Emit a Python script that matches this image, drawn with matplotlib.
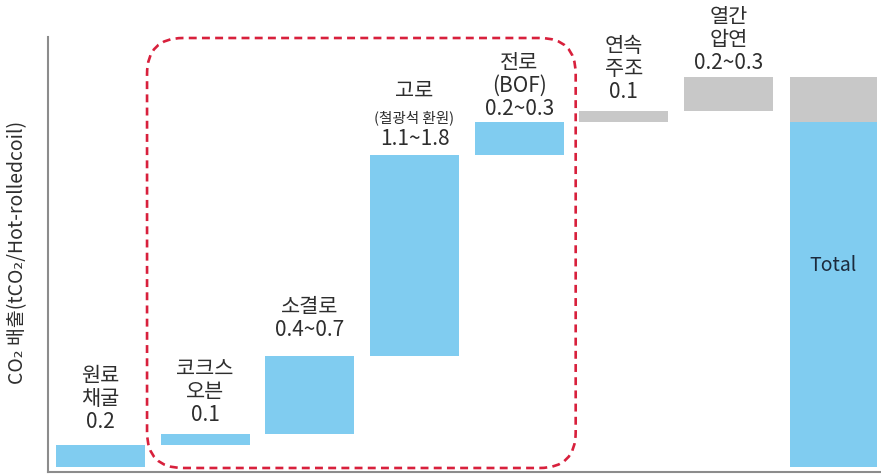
import matplotlib
matplotlib.use("Agg")
import matplotlib.pyplot as plt
from matplotlib.patches import FancyBboxPatch

plt.rcParams['font.family'] = ['Noto Sans CJK KR', 'DejaVu Sans']

# Process stages of a blast-furnace steel route and their CO2 intensity (tCO2 per t hot-rolled coil)
stages = ['원료\n채굴', '코크스\n오븐', '소결로', '고로', '전로', '연속\n주조', '열간\n압연']
notes = ['', '', '', '(철광석 환원)', '(BOF)', '', '']
low = [0.2, 0.1, 0.4, 1.1, 0.2, 0.1, 0.2]
high = [0.2, 0.1, 0.7, 1.8, 0.3, 0.1, 0.3]
upstream = [True, True, True, True, True, False, False]
total_label = 'Total'
ylabel = 'CO₂ 배출(tCO₂/Hot-rolledcoil)'

BLUE = '#80CCF0'
GRAY = '#C8C8C8'
TEXT = '#2E2E2E'

W, H = 881, 475
fig = plt.figure(figsize=(W / 100, H / 100), dpi=100)
ax = fig.add_axes([48 / W, 3 / H, (W - 48) / W, (472 - 37) / H])

# waterfall: each stage starts where the previous one ended
bottoms = []
acc = 0.0
for v in high:
    bottoms.append(acc)
    acc += v
total = acc
blue_total = sum(v for v, u in zip(high, upstream) if u)

xs = list(range(len(stages)))
colors = [BLUE if u else GRAY for u in upstream]
ax.bar(xs, high, bottom=bottoms, width=0.85, color=colors, edgecolor='none')

# total column: upstream part in blue, downstream part in gray
tx = len(stages)
ax.bar(tx, blue_total, bottom=0, width=0.83, color=BLUE, edgecolor='none')
ax.bar(tx, total - blue_total, bottom=blue_total, width=0.83, color=GRAY, edgecolor='none')
ax.text(tx, 1.81, total_label, ha='center', va='center', fontsize=14, color='#1C2A3C')

# stage labels stacked above each bar (pixel offsets)
gaps = [23, 19, 26, 16, 13, 19, 14]
for i, (name, note, lo, hi) in enumerate(zip(stages, notes, low, high)):
    val = f'{lo:g}' if lo == hi else f'{lo:g}~{hi:g}'
    lines = [(val, 15)]
    if note:
        lines.append((note, 10.5 if i == 3 else 15))
    for part in reversed(name.split('\n')):
        lines.append((part, 15))
    top = bottoms[i] + hi
    off = gaps[i]
    for k, (txt, fs) in enumerate(lines):
        ax.annotate(txt, (i, top), xytext=(0, off), textcoords='offset pixels',
                    ha='center', va='center', fontsize=fs, color=TEXT,
                    annotation_clip=False)
        if k + 1 < len(lines):
            if i == 3:
                off += 21 if k == 0 else 27
            else:
                off += 23

# dashed outline around the ironmaking / steelmaking stages
box = FancyBboxPatch((0.446, -0.009), 4.094, 3.86,
                     boxstyle='round,pad=0,rounding_size=0.344', mutation_aspect=0.94,
                     fill=False, edgecolor='#D8203C', linewidth=1.9,
                     linestyle=(0, (3.0, 2.0)), clip_on=False, zorder=5)
ax.add_patch(box)

ax.set_xlim(-0.5, 7.456)
ax.set_ylim(-0.045, 3.86)
ax.set_xticks([])
ax.set_yticks([])
for s in ('top', 'right'):
    ax.spines[s].set_visible(False)
for s in ('left', 'bottom'):
    ax.spines[s].set_color('#8C8C8C')
    ax.spines[s].set_linewidth(1.5)

fig.text(18 / W, (H - 252) / H, ylabel, rotation=90, ha='center', va='center',
         fontsize=14, color=TEXT)

fig.savefig('out.png', dpi=100)
